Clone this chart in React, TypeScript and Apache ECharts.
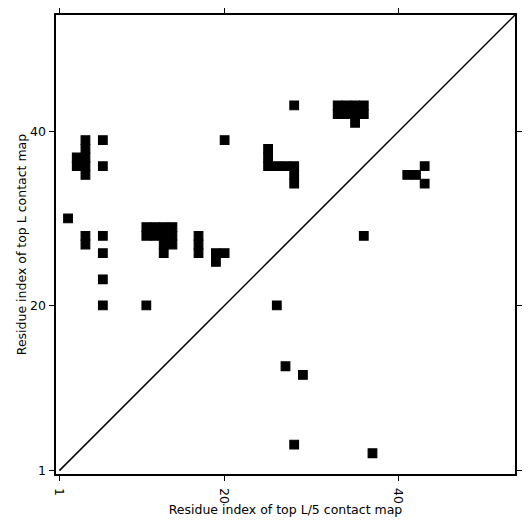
import React, { useEffect, useRef } from "react";
import * as echarts from "echarts";

const L = 53;
const tickValues = [1, 20, 40];
const xTitle = "Residue index of top L/5 contact map";
const yTitle = "Residue index of top L contact map";

// [residue i (x), residue j (y)]
const contacts: [number, number][] = [
  [2, 30],
  [3, 36], [3, 37],
  [4, 35], [4, 36], [4, 37], [4, 38], [4, 39],
  [6, 39], [6, 36],
  [20, 39],
  [4, 27], [4, 28],
  [6, 28], [6, 26], [6, 23], [6, 20],
  [11, 28], [12, 28], [13, 28], [14, 28],
  [11, 29], [12, 29], [13, 29], [14, 29],
  [13, 27], [14, 27], [13, 26],
  [17, 26], [17, 27], [17, 28],
  [19, 26], [20, 26], [19, 25],
  [11, 20],
  [28, 43],
  [33, 42], [34, 42], [35, 42], [36, 42],
  [33, 43], [34, 43], [35, 43], [36, 43],
  [35, 41],
  [25, 36], [25, 37], [25, 38], [26, 36], [27, 36], [28, 36], [28, 35], [28, 34],
  [43, 36], [41, 35], [42, 35], [43, 34],
  [36, 28],
  [26, 20],
  [27, 13], [29, 12], [28, 4], [37, 3],
];

const diagonal: [number, number][] = [
  [1, 1],
  [L + 0.5, L + 0.5],
];

const FONT = "DejaVu Sans";

function axisBase(pos: string, showLabel: boolean, isX: boolean) {
  return {
    type: "value",
    min: 0.5,
    max: L + 0.5,
    position: pos,
    splitLine: { show: false },
    axisLine: { show: true, onZero: false, lineStyle: { color: "#000", width: 2 } },
    axisTick: {
      show: true,
      inside: false,
      length: 6,
      customValues: tickValues,
      lineStyle: { color: "#000", width: 1 },
    },
    axisLabel: {
      show: showLabel,
      customValues: tickValues,
      color: "#000",
      fontFamily: FONT,
      fontSize: 12.5,
      margin: isX ? 13 : 9,
      rotate: isX ? -90 : 0,
    },
  };
}

export default function App() {
  const ref = useRef<HTMLDivElement>(null);
  useEffect(() => {
    if (!ref.current) return;
    const chart = echarts.init(ref.current, null, { renderer: "svg" });
    const xb = {
      ...axisBase("bottom", true, true),
      name: xTitle,
      nameLocation: "middle",
      nameGap: 28,
      nameMoveOverlap: false,
      nameTextStyle: { fontFamily: FONT, fontSize: 12.5, color: "#000" },
    };
    const yl = {
      ...axisBase("left", true, false),
      name: yTitle,
      nameLocation: "middle",
      nameGap: 27,
      nameMoveOverlap: false,
      nameTextStyle: { fontFamily: FONT, fontSize: 12.5, color: "#000" },
    };
    chart.setOption({
      animation: false,
      backgroundColor: "#fff",
      grid: { left: 55, right: 15, top: 14, bottom: 56, containLabel: false },
      xAxis: [xb, axisBase("top", false, true)],
      yAxis: [yl, axisBase("right", false, false)],
      series: [
        {
          type: "custom",
          xAxisIndex: 0,
          yAxisIndex: 0,
          data: contacts,
          encode: { x: 0, y: 1 },
          clip: true,
          renderItem: (params: any, api: any) => {
            const x = api.value(0);
            const y = api.value(1);
            const p0 = api.coord([x - 0.5, y + 0.5]);
            const p1 = api.coord([x + 0.5, y - 0.5]);
            return {
              type: "rect",
              shape: { x: p0[0], y: p0[1], width: p1[0] - p0[0], height: p1[1] - p0[1] },
              style: { fill: "#000", stroke: "#000", lineWidth: 1.1 },
            };
          },
        },
        {
          type: "line",
          xAxisIndex: 0,
          yAxisIndex: 0,
          data: diagonal,
          showSymbol: false,
          symbol: "none",
          clip: true,
          lineStyle: { color: "#000", width: 1.5 },
        },
      ],
    });
    return () => chart.dispose();
  }, []);
  return <div ref={ref} style={{ width: 531, height: 531, margin: -8 }} />;
}
